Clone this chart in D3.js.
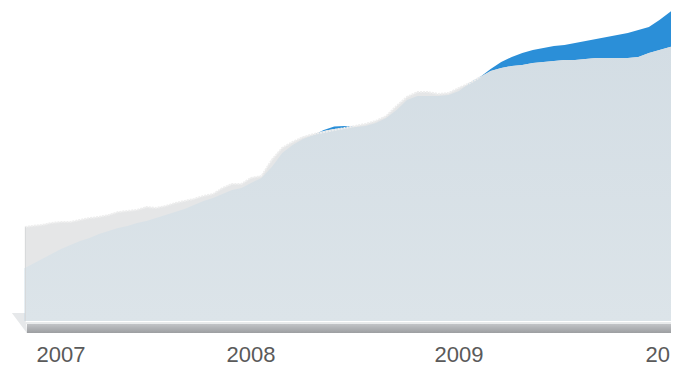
<!DOCTYPE html>
<html>
<head>
<meta charset="utf-8">
<script src="https://cdn.jsdelivr.net/npm/d3@7"></script>
<style>
  html, body { margin: 0; padding: 0; background: #ffffff; }
  svg { display: block; }
</style>
</head>
<body>
<svg id="chart" width="675" height="367"></svg>
<script>
// ---- data (decimal year, values in arbitrary units) ----
const years = [2006.81,2006.85,2006.90,2006.95,2007.00,2007.05,2007.10,2007.15,2007.20,2007.25,
  2007.30,2007.35,2007.40,2007.45,2007.50,2007.55,2007.60,2007.65,2007.70,2007.75,
  2007.80,2007.85,2007.90,2007.95,2008.00,2008.05,2008.10,2008.15,2008.20,2008.25,
  2008.30,2008.35,2008.40,2008.45,2008.50,2008.55,2008.60,2008.65,2008.70,2008.75,
  2008.80,2008.85,2008.90,2008.95,2009.00,2009.05,2009.10,2009.15,2009.20,2009.25,
  2009.30,2009.35,2009.40,2009.45,2009.50,2009.55,2009.60,2009.65,2009.70,2009.75,
  2009.80,2009.85,2009.90,2009.95,2010.00,2010.05];
const greySeries = [31.3,31.7,32.0,32.7,33.0,33.0,33.7,34.3,34.7,35.3,
  36.3,36.7,37.0,38.0,37.7,38.3,39.3,40.0,40.7,41.7,
  42.3,44.3,45.7,45.7,47.7,48.3,53.7,57.7,59.7,61.3,
  62.3,63.3,64.0,64.3,65.0,65.7,66.7,68.3,71.7,74.7,
  76.3,76.3,75.7,76.0,77.7,79.3,81.3,83.3,84.3,85.0,
  85.3,86.0,86.3,86.7,87.0,87.0,87.3,87.7,87.7,87.7,
  87.7,88.0,89.3,90.3,91.3,92.3];
const blueSeries = [17.7,19.0,20.7,22.3,24.0,25.3,26.7,27.7,29.0,30.0,
  31.0,31.7,32.7,33.3,34.3,35.3,36.3,37.3,38.7,40.0,
  41.0,42.3,43.7,44.3,46.0,47.7,51.3,56.0,58.7,60.7,
  62.0,63.7,64.8,65.0,64.7,65.0,66.0,67.7,70.3,73.7,
  75.0,75.0,75.0,75.3,76.7,79.3,81.3,84.0,86.3,88.0,
  89.3,90.3,91.0,91.7,92.0,92.7,93.3,94.0,94.7,95.3,
  96.0,97.0,98.0,100.3,103.0,105.3];
const tickYears = [2007, 2008, 2009, 2010];
const tickLabels = ["2007", "2008", "2009", "2010"];

const data = years.map((t, i) => ({ t, grey: greySeries[i], blue: blueSeries[i] }));

// ---- scales ----
const x = d3.scaleLinear().domain([2007, 2008, 2009, 2010]).range([61, 251, 459, 670]);
const y = d3.scaleLinear().domain([0, 100]).range([321, 21]);

const svg = d3.select("#chart");
const defs = svg.append("defs");
const g1 = defs.append("linearGradient").attr("id", "ovl").attr("x1", 0).attr("y1", 0).attr("x2", 0).attr("y2", 1);
g1.append("stop").attr("offset", "0%").attr("stop-color", "#d3dde4");
g1.append("stop").attr("offset", "100%").attr("stop-color", "#dce4e9");
const g2 = defs.append("linearGradient").attr("id", "shelf").attr("x1", 0).attr("y1", 0).attr("x2", 0).attr("y2", 1);
g2.append("stop").attr("offset", "0%").attr("stop-color", "#c2c4c7");
g2.append("stop").attr("offset", "100%").attr("stop-color", "#9c9ea1");
defs.append("clipPath").attr("id", "clip").append("rect")
  .attr("x", 0).attr("y", 0).attr("width", 671).attr("height", 367);

const root = svg.append("g").attr("clip-path", "url(#clip)");

const x0 = x(years[0]);
const xEnd = 675;

// floor (left slanted edge)
root.append("path")
  .attr("d", `M${x0 - 13},${y(0) - 8} L${x0},${y(0) - 8} L${x0 + 2},${y(0) + 12} Z`)
  .attr("fill", "#e6e8ea");

// shelf band
root.append("rect").attr("x", x0 + 1).attr("y", y(0) + 1).attr("width", xEnd - x0).attr("height", 2).attr("fill", "#e9ebec");
root.append("rect").attr("x", x0 + 2).attr("y", y(0) + 3).attr("width", xEnd - x0).attr("height", 9).attr("fill", "url(#shelf)");

const area = key => d3.area().x(d => x(d.t)).y0(y(0)).y1(d => y(key(d)));

// blue series (behind)
root.append("path").datum(data).attr("d", area(d => d.blue)).attr("fill", "#2b8fd8");
// grey series
root.append("path").datum(data).attr("d", area(d => d.grey)).attr("fill", "#e5e6e7");
// overlap
root.append("path").datum(data).attr("d", area(d => Math.min(d.grey, d.blue))).attr("fill", "url(#ovl)");

// grey textured edge
root.append("path")
  .attr("d", d3.line().x(d => x(d.t)).y(d => y(d.grey))(data.filter(d => d.grey >= d.blue)))
  .attr("fill", "none").attr("stroke", "#eeeeee").attr("stroke-width", 2).attr("stroke-dasharray", "2,1");

// left edge
root.append("line").attr("x1", x0 + 0.5).attr("x2", x0 + 0.5).attr("y1", y(greySeries[0])).attr("y2", y(0))
  .attr("stroke", "#d6d8d9").attr("stroke-width", 1);

// axis labels
root.append("g").selectAll("text").data(tickYears).join("text")
  .attr("x", d => x(d))
  .attr("y", 362)
  .attr("text-anchor", "middle")
  .attr("font-family", "'Liberation Sans', Arial, sans-serif")
  .attr("font-size", 22)
  .attr("fill", "#5a5a5a")
  .text((d, i) => tickLabels[i]);
</script>
</body>
</html>
